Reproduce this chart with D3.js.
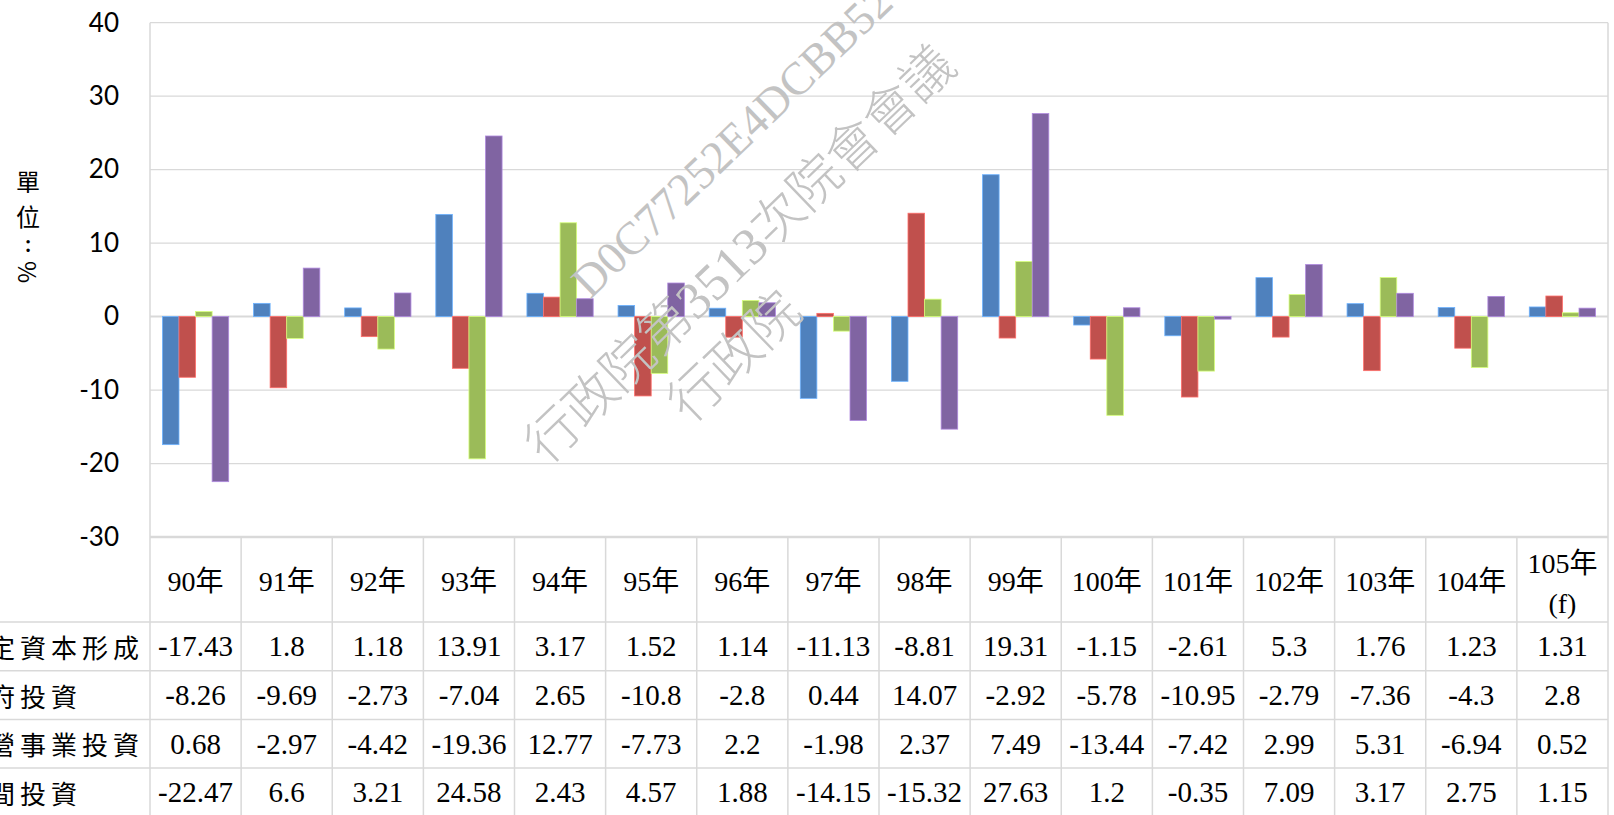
<!DOCTYPE html>
<html>
<head>
<meta charset="utf-8">
<script src="https://cdn.jsdelivr.net/npm/d3@7"></script>
<style>
  html, body { margin: 0; padding: 0; background: #fff; overflow: hidden; }
  svg { display: block; }
</style>
</head>
<body>
<div id="chart-area"></div>
<script>
const SVG_WIDTH = 1614;
const SVG_HEIGHT = 815;

// data
const categories = ["90年", "91年", "92年", "93年", "94年", "95年", "96年", "97年", "98年", "99年", "100年", "101年", "102年", "103年", "104年", "105年(f)"];
const seriesNames = ["固定資本形成", "政府投資", "公營事業投資", "民間投資"];
const fixedCapital = [-17.43, 1.8, 1.18, 13.91, 3.17, 1.52, 1.14, -11.13, -8.81, 19.31, -1.15, -2.61, 5.3, 1.76, 1.23, 1.31];
const govInvest = [-8.26, -9.69, -2.73, -7.04, 2.65, -10.8, -2.8, 0.44, 14.07, -2.92, -5.78, -10.95, -2.79, -7.36, -4.3, 2.8];
const publicEnterprise = [0.68, -2.97, -4.42, -19.36, 12.77, -7.73, 2.2, -1.98, 2.37, 7.49, -13.44, -7.42, 2.99, 5.31, -6.94, 0.52];
const privateInvest = [-22.47, 6.6, 3.21, 24.58, 2.43, 4.57, 1.88, -14.15, -15.32, 27.63, 1.2, -0.35, 7.09, 3.17, 2.75, 1.15];
const yTicks = [-30, -20, -10, 0, 10, 20, 30, 40];
const yTitle = ["單", "位", ":", "%"];
const watermark = ["D0C77252E4DCBB52", "行政院第3513次院會會議", "行政院"];

const seriesValues = [fixedCapital, govInvest, publicEnterprise, privateInvest];
const colors = ["#4F81BD", "#C0504D", "#9BBB59", "#8064A2"];

const plot = { left: 150, right: 1608, top: 22.7, bottom: 537 };
const table = { top: 537, header: 622, rowH: 48.7 };
const gridColor = "#d9d9d9";
const serif = "'Liberation Serif', 'Times New Roman', 'Noto Sans CJK TC', serif";

const svg = d3.select("#chart-area").append("svg")
    .attr("width", SVG_WIDTH).attr("height", SVG_HEIGHT);

const x = d3.scaleBand().domain(categories).range([plot.left, plot.right]).padding(0);
const gap = x.bandwidth() * 1.5 / 5.5 / 2;
const x1 = d3.scaleBand().domain(d3.range(seriesNames.length)).range([gap, x.bandwidth() - gap]).padding(0);
const y = d3.scaleLinear().domain([-30, 40]).range([plot.bottom, plot.top]);

// gridlines
svg.append("g").selectAll("line").data(yTicks.filter(d => d !== -30)).enter().append("line")
    .attr("x1", plot.left).attr("x2", plot.right)
    .attr("y1", d => y(d)).attr("y2", d => y(d))
    .attr("stroke", gridColor).attr("stroke-width", d => d === 0 ? 2 : 1.3);

// plot borders
svg.append("line").attr("x1", plot.left).attr("x2", plot.left).attr("y1", plot.top).attr("y2", SVG_HEIGHT)
    .attr("stroke", gridColor).attr("stroke-width", 1.5);
svg.append("line").attr("x1", plot.right).attr("x2", plot.right).attr("y1", plot.top).attr("y2", SVG_HEIGHT)
    .attr("stroke", gridColor).attr("stroke-width", 1.5);

// y axis labels
const yAxisG = svg.append("g").attr("transform", `translate(${plot.left - 31},0)`)
    .call(d3.axisLeft(y).tickValues(yTicks).tickSize(0).tickPadding(0).tickFormat(d => String(d)));
yAxisG.select(".domain").remove();
yAxisG.selectAll("text").attr("font-family", "Lato, 'Open Sans', sans-serif").attr("font-size", 26).attr("fill", "#000");

// y title, stacked
const titleY = [180, 215, 243, 272];
svg.append("g").selectAll("text").data(yTitle).enter().append("text")
    .attr("transform", (d, i) => d === "%" ? `translate(28,${titleY[i]}) rotate(90)` : `translate(28,${titleY[i]})`)
    .attr("text-anchor", "middle").attr("dominant-baseline", "central")
    .attr("font-family", d => d === ":" ? "Lato, sans-serif" : "'Noto Sans CJK TC', sans-serif")
    .attr("font-weight", d => d === ":" ? 700 : 400)
    .attr("font-size", d => d === ":" ? 22 : 24)
    .text(d => d);

// bars
const groups = svg.append("g").selectAll("g").data(categories).enter().append("g")
    .attr("transform", d => `translate(${x(d)},0)`);
groups.selectAll("rect").data((d, i) => seriesValues.map((s, k) => ({ k, v: s[i] }))).enter().append("rect")
    .attr("x", d => x1(d.k))
    .attr("width", x1.bandwidth())
    .attr("y", d => y(Math.max(0, d.v)))
    .attr("height", d => Math.abs(y(d.v) - y(0)))
    .attr("fill", d => colors[d.k])
    .attr("stroke", d => d3.color(colors[d.k]).brighter(0.9))
    .attr("stroke-width", 0.8);

// data table
const tg = svg.append("g");
tg.append("line").attr("x1", plot.left).attr("x2", plot.right).attr("y1", table.top).attr("y2", table.top)
    .attr("stroke", gridColor).attr("stroke-width", 2.5);
const rowLines = d3.range(seriesNames.length).map(i => table.header + i * table.rowH);
tg.selectAll(".hrow").data(rowLines).enter().append("line")
    .attr("x1", 0).attr("x2", plot.right).attr("y1", d => d).attr("y2", d => d)
    .attr("stroke", gridColor).attr("stroke-width", 1.5);
tg.selectAll(".vcol").data(categories.slice(1)).enter().append("line")
    .attr("x1", d => x(d)).attr("x2", d => x(d)).attr("y1", table.top).attr("y2", SVG_HEIGHT)
    .attr("stroke", gridColor).attr("stroke-width", 1.5);

// header labels
const head = tg.selectAll(".head").data(categories).enter().append("text")
    .attr("text-anchor", "middle")
    .attr("font-family", serif).attr("font-size", 28);
head.each(function(d) {
    const t = d3.select(this);
    const cx = x(d) + x.bandwidth() / 2;
    const parts = d.includes("(") ? [d.slice(0, d.indexOf("(")), d.slice(d.indexOf("("))] : [d];
    const y0 = parts.length === 1 ? 591 : 573;
    parts.forEach((p, j) => t.append("tspan").attr("x", cx).attr("y", y0 + j * 40).text(p));
});

// row labels
tg.selectAll(".rlab").data(seriesNames).enter().append("text")
    .attr("x", -42).attr("y", (d, i) => table.header + i * table.rowH + table.rowH / 2)
    .attr("dominant-baseline", "central")
    .attr("font-family", "'Noto Sans CJK TC', sans-serif").attr("font-size", 26)
    .attr("letter-spacing", 5)
    .text(d => d);

// values
seriesValues.forEach((s, k) => {
    tg.selectAll(".val" + k).data(s).enter().append("text")
        .attr("x", (d, i) => x(categories[i]) + x.bandwidth() / 2)
        .attr("y", table.header + k * table.rowH + table.rowH / 2 + 10)
        .attr("text-anchor", "middle")
        .attr("font-family", serif).attr("font-size", 29)
        .text(d => String(d));
});

// watermark
const wmPos = [[590, 300, 46], [547, 466, 52], [690, 425, 53]];
svg.append("g").selectAll("text").data(watermark).enter().append("text")
    .attr("transform", (d, i) => `translate(${wmPos[i][0]},${wmPos[i][1]}) rotate(-44)`)
    .attr("font-family", "'Liberation Serif', 'Noto Sans CJK TC', serif")
    .attr("font-weight", 300)
    .attr("font-size", (d, i) => wmPos[i][2])
    .attr("fill", "#c3c3c3")
    .text(d => d);
</script>
</body>
</html>
